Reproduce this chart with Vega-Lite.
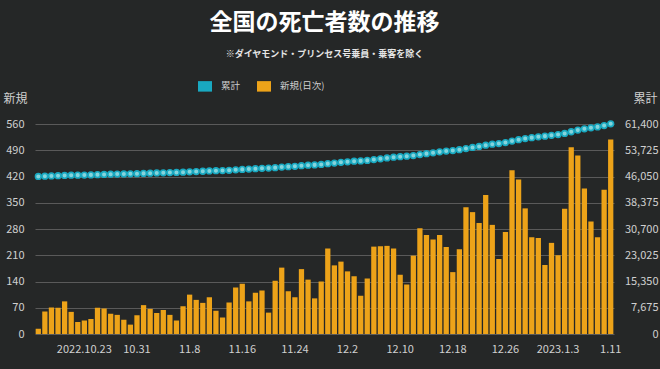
{
  "$schema": "https://vega.github.io/schema/vega-lite/v6.json",
  "width": 579,
  "height": 210,
  "autosize": {"type": "none"},
  "padding": {"left": 35, "top": 124, "right": 46, "bottom": 35},
  "background": "#252727",
  "config": {"view": {"stroke": null}, "font": "Noto Sans CJK JP"},
  "title": {
    "text": "全国の死亡者数の推移",
    "subtitle": "※ダイヤモンド・プリンセス号乗員・乗客を除く",
    "anchor": "middle",
    "frame": "group",
    "color": "#ffffff",
    "fontSize": 23,
    "fontWeight": "bold",
    "font": "Noto Sans CJK JP",
    "subtitleFont": "Noto Sans CJK JP",
    "subtitleColor": "#e6e6e6",
    "subtitleFontSize": 9,
    "subtitleFontWeight": "bold",
    "subtitlePadding": 15,
    "offset": 20
  },
  "data": {"values": [
    {"d":"2022-10-16","n":14,"c":46070},{"d":"2022-10-17","n":60,"c":46130},{"d":"2022-10-18","n":71,"c":46201},{"d":"2022-10-19","n":70,"c":46271},
    {"d":"2022-10-20","n":87,"c":46358},{"d":"2022-10-21","n":59,"c":46417},{"d":"2022-10-22","n":32,"c":46449},{"d":"2022-10-23","n":36,"c":46485},
    {"d":"2022-10-24","n":40,"c":46525},{"d":"2022-10-25","n":70,"c":46595},{"d":"2022-10-26","n":68,"c":46663},{"d":"2022-10-27","n":54,"c":46717},
    {"d":"2022-10-28","n":51,"c":46768},{"d":"2022-10-29","n":38,"c":46806},{"d":"2022-10-30","n":25,"c":46831},{"d":"2022-10-31","n":50,"c":46881},
    {"d":"2022-11-01","n":77,"c":46958},{"d":"2022-11-02","n":67,"c":47025},{"d":"2022-11-03","n":56,"c":47081},{"d":"2022-11-04","n":64,"c":47145},
    {"d":"2022-11-05","n":51,"c":47196},{"d":"2022-11-06","n":36,"c":47232},{"d":"2022-11-07","n":74,"c":47306},{"d":"2022-11-08","n":105,"c":47411},
    {"d":"2022-11-09","n":91,"c":47502},{"d":"2022-11-10","n":83,"c":47585},{"d":"2022-11-11","n":98,"c":47683},{"d":"2022-11-12","n":62,"c":47745},
    {"d":"2022-11-13","n":44,"c":47789},{"d":"2022-11-14","n":84,"c":47873},{"d":"2022-11-15","n":124,"c":47997},{"d":"2022-11-16","n":134,"c":48131},
    {"d":"2022-11-17","n":87,"c":48218},{"d":"2022-11-18","n":110,"c":48328},{"d":"2022-11-19","n":116,"c":48444},{"d":"2022-11-20","n":57,"c":48501},
    {"d":"2022-11-21","n":142,"c":48643},{"d":"2022-11-22","n":177,"c":48820},{"d":"2022-11-23","n":114,"c":48934},{"d":"2022-11-24","n":98,"c":49032},
    {"d":"2022-11-25","n":173,"c":49205},{"d":"2022-11-26","n":145,"c":49350},{"d":"2022-11-27","n":95,"c":49445},{"d":"2022-11-28","n":140,"c":49585},
    {"d":"2022-11-29","n":228,"c":49813},{"d":"2022-11-30","n":183,"c":49996},{"d":"2022-12-01","n":193,"c":50189},{"d":"2022-12-02","n":167,"c":50356},
    {"d":"2022-12-03","n":154,"c":50510},{"d":"2022-12-04","n":102,"c":50612},{"d":"2022-12-05","n":148,"c":50760},{"d":"2022-12-06","n":233,"c":50993},
    {"d":"2022-12-07","n":234,"c":51227},{"d":"2022-12-08","n":235,"c":51462},{"d":"2022-12-09","n":228,"c":51690},{"d":"2022-12-10","n":158,"c":51848},
    {"d":"2022-12-11","n":132,"c":51980},{"d":"2022-12-12","n":209,"c":52189},{"d":"2022-12-13","n":282,"c":52471},{"d":"2022-12-14","n":264,"c":52735},
    {"d":"2022-12-15","n":252,"c":52987},{"d":"2022-12-16","n":264,"c":53251},{"d":"2022-12-17","n":232,"c":53483},{"d":"2022-12-18","n":165,"c":53648},
    {"d":"2022-12-19","n":226,"c":53874},{"d":"2022-12-20","n":338,"c":54212},{"d":"2022-12-21","n":325,"c":54537},{"d":"2022-12-22","n":296,"c":54833},
    {"d":"2022-12-23","n":371,"c":55204},{"d":"2022-12-24","n":291,"c":55495},{"d":"2022-12-25","n":200,"c":55695},{"d":"2022-12-26","n":272,"c":55967},
    {"d":"2022-12-27","n":437,"c":56404},{"d":"2022-12-28","n":412,"c":56816},{"d":"2022-12-29","n":335,"c":57151},{"d":"2022-12-30","n":258,"c":57409},
    {"d":"2022-12-31","n":256,"c":57665},{"d":"2023-01-01","n":184,"c":57849},{"d":"2023-01-02","n":243,"c":58092},{"d":"2023-01-03","n":210,"c":58302},
    {"d":"2023-01-04","n":334,"c":58636},{"d":"2023-01-05","n":498,"c":59134},{"d":"2023-01-06","n":476,"c":59610},{"d":"2023-01-07","n":388,"c":59998},
    {"d":"2023-01-08","n":300,"c":60298},{"d":"2023-01-09","n":258,"c":60556},{"d":"2023-01-10","n":385,"c":60941},{"d":"2023-01-11","n":519,"c":61460}
  ]},
  "encoding": {
    "x": {
      "field": "d",
      "type": "ordinal",
      "scale": {"paddingInner": 0.2, "paddingOuter": 0.1},
      "axis": {
        "title": null,
        "values": ["2022-10-23","2022-10-31","2022-11-08","2022-11-16","2022-11-24","2022-12-02","2022-12-10","2022-12-18","2022-12-26","2023-01-03","2023-01-11"],
        "labelExpr": "datum.value == '2022-10-23' ? '2022.10.23' : datum.value == '2023-01-03' ? '2023.1.3' : toNumber(substring(datum.value,5,7)) + '.' + toNumber(substring(datum.value,8,10))",
        "labelAngle": 0,
        "labelColor": "#d0d0d0",
        "labelFontSize": 11,
        "labelPadding": 9,
        "ticks": false,
        "domain": false,
        "grid": false
      }
    }
  },
  "layer": [
    {
      "mark": {"type": "bar", "opacity": 1},
      "encoding": {
        "y": {
          "field": "n",
          "type": "quantitative",
          "scale": {"domain": [0, 560], "nice": false},
          "axis": {
            "values": [0,70,140,210,280,350,420,490,560],
            "format": "d",
            "title": "新規",
            "titleAngle": 0,
            "titleAlign": "left",
            "titleBaseline": "middle",
            "titleX": -32,
            "titleY": -26,
            "titleColor": "#d0d0d0",
            "titleFontSize": 12,
            "titleFontWeight": "normal",
            "grid": true,
            "gridColor": "#5a5a5a",
            "gridWidth": 1,
            "domain": false,
            "ticks": false,
            "labelPadding": 11,
            "labelColor": "#d0d0d0",
            "labelFontSize": 11
          }
        },
        "color": {
          "datum": "新規(日次)",
          "type": "nominal",
          "scale": {"domain": ["累計", "新規(日次)"], "range": ["#19a9c1", "#eda319"]},
          "legend": {
            "orient": "none",
            "legendX": 163,
            "legendY": -45,
            "direction": "horizontal",
            "title": null,
            "symbolType": "M-1,-0.75L1,-0.75L1,0.75L-1,0.75Z",
            "symbolSize": 196,
            "symbolStrokeWidth": 0,
            "symbolOpacity": 1,
            "labelColor": "#d0d0d0",
            "labelFontSize": 9.5,
            "labelOffset": 9,
            "columnPadding": 16,
            "encode": {"symbols": {"update": {"fill": {"scale": "color", "field": "value"}, "stroke": {"value": "transparent"}, "opacity": {"value": 1}}}}
          }
        }
      }
    },
    {
      "mark": {"type": "point", "filled": false, "fill": "#86d4dc", "fillOpacity": 1, "strokeWidth": 1.6, "size": 32, "opacity": 1},
      "encoding": {
        "y": {
          "field": "c",
          "type": "quantitative",
          "scale": {"domain": [0, 61400], "nice": false},
          "axis": {
            "orient": "right",
            "values": [0,7675,15350,23025,30700,38375,46050,53725,61400],
            "format": ",d",
            "title": "累計",
            "titleAngle": 0,
            "titleAlign": "right",
            "titleBaseline": "middle",
            "titleX": 43,
            "titleY": -26,
            "titleColor": "#d0d0d0",
            "titleFontSize": 12,
            "titleFontWeight": "normal",
            "grid": false,
            "domain": false,
            "ticks": false,
            "labelAlign": "right",
            "labelPadding": 44,
            "labelColor": "#d0d0d0",
            "labelFontSize": 11
          }
        },
        "color": {"datum": "累計", "type": "nominal"}
      }
    }
  ],
  "resolve": {"scale": {"y": "independent"}}
}
